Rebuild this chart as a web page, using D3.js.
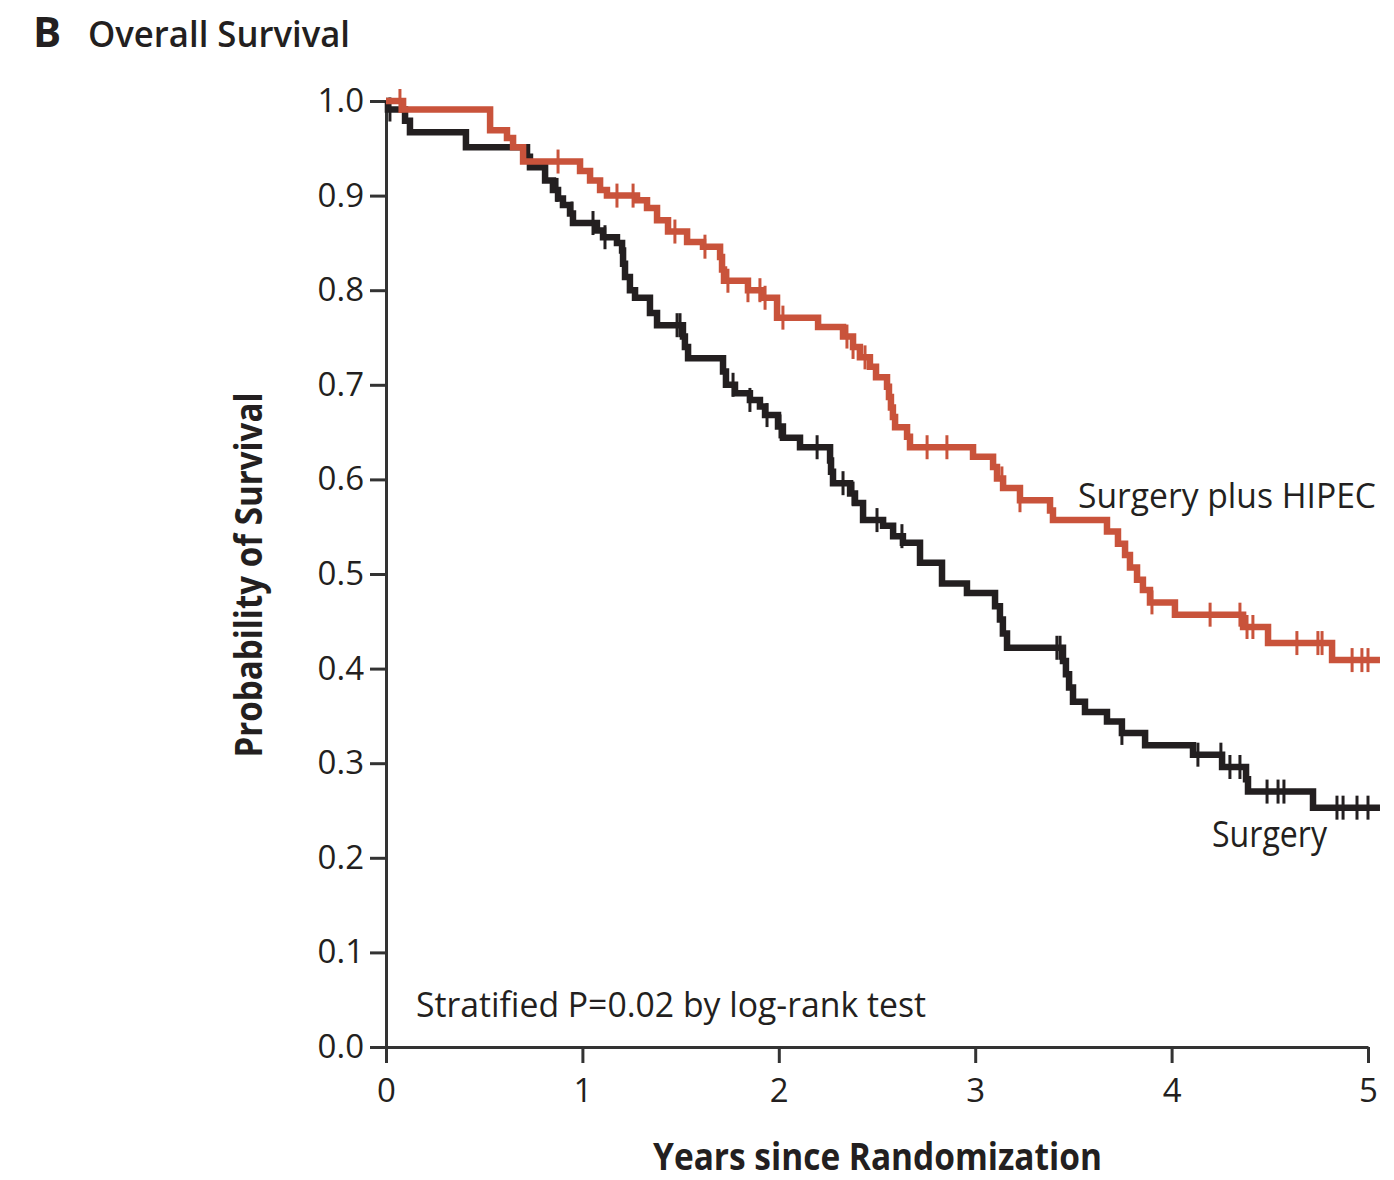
<!DOCTYPE html>
<html>
<head>
<meta charset="utf-8">
<script src="https://cdn.jsdelivr.net/npm/d3@7"></script>
<style>
  body { margin: 0; background: #fff; }
  text { font-family: "Open Sans", "Noto Sans", sans-serif; fill: #231f20; }
</style>
</head>
<body>
<svg id="chart" width="1394" height="1180"></svg>
<script>
// Kaplan-Meier steps (years, survival probability)
const hipecTimes = [0, 0.087, 0.530, 0.616, 0.647, 0.698, 0.988, 1.039, 1.090, 1.125, 1.278, 1.329, 1.380, 1.436,
  1.533, 1.614, 1.701, 1.711, 1.721, 1.843, 1.914, 1.991, 2.200, 2.327, 2.378, 2.413, 2.464, 2.495, 2.551,
  2.561, 2.571, 2.581, 2.592, 2.653, 2.668, 2.989, 3.091, 3.111, 3.142, 3.228, 3.381, 3.396, 3.671, 3.727,
  3.763, 3.788, 3.824, 3.854, 3.890, 4.017, 4.364, 4.491, 4.817, 5.061];
const hipecSurv = [1.0, 0.991, 0.969, 0.961, 0.951, 0.936, 0.926, 0.916, 0.906, 0.900, 0.895, 0.887, 0.874, 0.862,
  0.851, 0.846, 0.835, 0.822, 0.810, 0.800, 0.792, 0.771, 0.761, 0.751, 0.740, 0.729, 0.719, 0.708, 0.698,
  0.687, 0.676, 0.666, 0.655, 0.645, 0.634, 0.624, 0.613, 0.601, 0.591, 0.578, 0.567, 0.557, 0.545, 0.532,
  0.520, 0.507, 0.494, 0.483, 0.470, 0.457, 0.444, 0.427, 0.409, 0.409];
const hipecCensor = [0.071, 0.876, 1.176, 1.258, 1.471, 1.624, 1.741, 1.843, 1.904, 1.930, 2.021, 2.347, 2.378,
  2.439, 2.755, 2.856, 3.136, 3.228, 3.900, 4.196, 4.348, 4.384, 4.414, 4.638, 4.745, 4.766, 4.919, 4.969, 5.000];

const surgeryTimes = [0, 0.010, 0.097, 0.122, 0.407, 0.718, 0.733, 0.810, 0.850, 0.876, 0.901, 0.937, 0.952, 1.074,
  1.105, 1.176, 1.202, 1.207, 1.217, 1.242, 1.268, 1.344, 1.380, 1.512, 1.522, 1.538, 1.716, 1.731, 1.777,
  1.853, 1.904, 1.930, 1.996, 2.021, 2.108, 2.261, 2.266, 2.276, 2.363, 2.388, 2.429, 2.531, 2.582, 2.632,
  2.719, 2.831, 2.958, 3.101, 3.126, 3.141, 3.162, 3.447, 3.462, 3.478, 3.498, 3.559, 3.671, 3.747, 3.865,
  4.109, 4.257, 4.379, 4.389, 4.720, 5.061];
const surgerySurv = [1.0, 0.991, 0.979, 0.967, 0.951, 0.941, 0.930, 0.916, 0.906, 0.897, 0.890, 0.881, 0.871, 0.863,
  0.856, 0.850, 0.842, 0.828, 0.814, 0.800, 0.792, 0.776, 0.763, 0.751, 0.740, 0.728, 0.714, 0.700, 0.691,
  0.684, 0.677, 0.668, 0.656, 0.644, 0.634, 0.620, 0.608, 0.596, 0.585, 0.575, 0.557, 0.551, 0.540, 0.533,
  0.512, 0.490, 0.480, 0.466, 0.452, 0.437, 0.422, 0.408, 0.394, 0.380, 0.365, 0.354, 0.344, 0.332, 0.319,
  0.309, 0.296, 0.283, 0.270, 0.253, 0.253];
const surgeryCensor = [0.020, 0.871, 0.947, 1.054, 1.115, 1.482, 1.497, 1.767, 1.853, 1.940, 2.006, 2.195, 2.327,
  2.378, 2.500, 2.627, 3.416, 3.432, 3.747, 4.134, 4.251, 4.297, 4.348, 4.486, 4.542, 4.572, 4.842, 4.873,
  4.944, 5.000];

const xTicks = [0, 1, 2, 3, 4, 5];
const yTicks = [0, 0.1, 0.2, 0.3, 0.4, 0.5, 0.6, 0.7, 0.8, 0.9, 1.0];

const red = "#c9533b";
const dark = "#231f20";

const svg = d3.select("#chart");
const x = d3.scaleLinear().domain([0, 5]).range([386, 1368]);
const y = d3.scaleLinear().domain([0, 1]).range([1047, 101]);

// axes
const xAxis = svg.append("g").attr("transform", "translate(0,1047)")
  .call(d3.axisBottom(x).tickValues(xTicks).tickFormat(d3.format("d")).tickSize(16).tickSizeOuter(0).tickPadding(16));
const yAxis = svg.append("g").attr("transform", "translate(386,0)")
  .call(d3.axisLeft(y).tickValues(yTicks).tickFormat(d3.format(".1f")).tickSize(16).tickSizeOuter(0).tickPadding(6));

[xAxis, yAxis].forEach(a =>
{
  a.selectAll("path, line").attr("stroke", "#333").attr("stroke-width", 3);
  a.selectAll("text").attr("font-size", 33).attr("fill", dark).style("font-family", "'Open Sans', sans-serif");
});

function survAt(times, surv, t)
{
  let i = d3.bisectRight(times, t) - 1;
  return surv[Math.max(0, i)];
}

function drawCurve(times, surv, censor, color)
{
  const pts = times.map((t, i) => [t, surv[i]]);
  const line = d3.line().x(d => x(d[0])).y(d => y(d[1])).curve(d3.curveStepAfter);
  svg.append("path").datum(pts).attr("d", line)
    .attr("fill", "none").attr("stroke", color).attr("stroke-width", 6.5)
    .attr("stroke-linejoin", "miter");
  svg.append("g").selectAll("line").data(censor).join("line")
    .attr("x1", d => x(d)).attr("x2", d => x(d))
    .attr("y1", d => y(survAt(times, surv, d)) - 12)
    .attr("y2", d => y(survAt(times, surv, d)) + 12)
    .attr("stroke", color).attr("stroke-width", 3);
}

drawCurve(surgeryTimes, surgerySurv, surgeryCensor, dark);
drawCurve(hipecTimes, hipecSurv, hipecCensor, red);

// labels
svg.append("text").attr("x", 33).attr("y", 47).attr("font-size", 42).attr("font-weight", 700).text("B");
svg.append("text").attr("x", 88).attr("y", 47).attr("font-size", 36).attr("font-weight", 600)
  .attr("textLength", 262).attr("lengthAdjust", "spacingAndGlyphs").text("Overall Survival");

svg.append("text").attr("transform", "translate(262,575) rotate(-90)").attr("text-anchor", "middle")
  .attr("font-size", 37).attr("font-weight", 700)
  .attr("textLength", 365).attr("lengthAdjust", "spacingAndGlyphs").text("Probability of Survival");

svg.append("text").attr("x", 653).attr("y", 1170).attr("font-size", 37).attr("font-weight", 700)
  .attr("textLength", 449).attr("lengthAdjust", "spacingAndGlyphs").text("Years since Randomization");

svg.append("text").attr("x", 1078).attr("y", 508).attr("font-size", 35)
  .attr("textLength", 298).attr("lengthAdjust", "spacingAndGlyphs").text("Surgery plus HIPEC");
svg.append("text").attr("x", 1212).attr("y", 847).attr("font-size", 36)
  .attr("textLength", 115).attr("lengthAdjust", "spacingAndGlyphs").text("Surgery");
svg.append("text").attr("x", 416).attr("y", 1017).attr("font-size", 35)
  .attr("textLength", 510).attr("lengthAdjust", "spacingAndGlyphs").text("Stratified P=0.02 by log-rank test");
</script>
</body>
</html>
